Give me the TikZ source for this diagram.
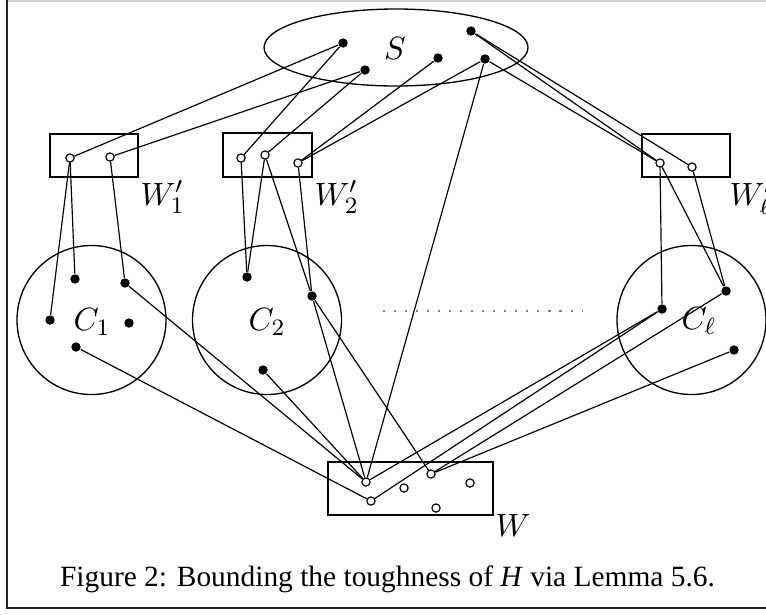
\documentclass[tikz,border=0pt]{standalone}
\usepackage[no-math]{fontspec}
\setmainfont{Liberation Serif}
\begin{document}
\begin{tikzpicture}[x=0.34pt,y=-0.34pt,
  edge/.style={line width=0.4pt},
  vtx/.style={circle,fill=black,inner sep=0pt,minimum size=3.2pt},
  ovtx/.style={circle,draw=black,fill=white,line width=0.4pt,inner sep=0pt,minimum size=2.8pt},
  setbox/.style={draw,line width=0.45pt},
  lbl/.style={inner sep=1pt,font=\fontsize{11}{13}\selectfont}]
\useasboundingbox (0,0) rectangle (766,614);
% frame
\draw[gray!35,line width=0.5pt] (7,0.8) -- (766,0.8);
\draw[black!85,line width=0.7pt] (7,0) -- (7,608) -- (766,608);

% sets
\draw[setbox] (396,47.5) ellipse [x radius=132, y radius=38.5];
\draw[setbox] (50,134) rectangle (138,177);
\draw[setbox] (223,133) rectangle (312,177);
\draw[setbox] (642,134) rectangle (730,177);
\draw[setbox] (328,462) rectangle (493,515);
\draw[setbox] (91.5,320) circle [radius=74.5];
\draw[setbox] (267,320) circle [radius=74.5];
\draw[setbox] (691.5,320) circle [radius=74.5];
\draw[gray,line width=0.7pt,dash pattern=on 0.7pt off 3.05pt] (383,311) -- (582,311);

% labels
\node[lbl] (lS) at (395,48) {$S$};
\node[lbl,anchor=north west] (lW1) at (137,177) {$W'_1$};
\node[lbl,anchor=north west] (lW2) at (311,177) {$W'_2$};
\node[lbl,anchor=north west] (lWl) at (726,177) {$W'_\ell$};
\node[lbl,anchor=north west] (lW) at (492,511) {$W$};
\node[lbl] (lC1) at (92,322) {$C_1$};
\node[lbl] (lC2) at (267,322) {$C_2$};
\node[lbl] (lCl) at (699,321) {$C_\ell$};

% vertices of S
\node[vtx] (d1) at (343,43) {};
\node[vtx] (d2) at (365,70) {};
\node[vtx] (d3) at (438,58) {};
\node[vtx] (d4) at (471,31) {};
\node[vtx] (d5) at (485,59) {};
% vertices of the W' sets
\node[ovtx] (a1) at (70,158) {};
\node[ovtx] (a2) at (110,157) {};
\node[ovtx] (b1) at (241,158) {};
\node[ovtx] (b2) at (265,155) {};
\node[ovtx] (b3) at (298,163) {};
\node[ovtx] (l1) at (660,163) {};
\node[ovtx] (l2) at (692,167) {};
% vertices of the components
\node[vtx] (c11) at (50,320) {};
\node[vtx] (c12) at (75,279) {};
\node[vtx] (c13) at (125,283) {};
\node[vtx] (c14) at (129,323) {};
\node[vtx] (c15) at (76,347) {};
\node[vtx] (c21) at (247,277) {};
\node[vtx] (c22) at (312,296) {};
\node[vtx] (c23) at (263,370) {};
\node[vtx] (cl1) at (662,309) {};
\node[vtx] (cl2) at (726,291) {};
\node[vtx] (cl3) at (734,350) {};
% vertices of W
\node[ovtx] (w1) at (366,482) {};
\node[ovtx] (w2) at (371,501) {};
\node[ovtx] (w3) at (404,488) {};
\node[ovtx] (w4) at (431,474) {};
\node[ovtx] (w5) at (470,483) {};
\node[ovtx] (w6) at (436,508) {};

% edges
\draw[edge] (d1) -- (a1);
\draw[edge] (d1) -- (b1);
\draw[edge] (d2) -- (a2);
\draw[edge] (d2) -- (b2);
\draw[edge] (d3) -- (b3);
\draw[edge] (d5) -- (b3);
\draw[edge] (d5) -- (w1);
\draw[edge] (d4) -- (l1);
\draw[edge] (d4) -- (l2);
\draw[edge] (d5) -- (l1);
\draw[edge] (a1) -- (c11);
\draw[edge] (a1) -- (c12);
\draw[edge] (a2) -- (c13);
\draw[edge] (b1) -- (c21);
\draw[edge] (b2) -- (c21);
\draw[edge] (b2) -- (c22);
\draw[edge] (b3) -- (c22);
\draw[edge] (c13) -- (w1);
\draw[edge] (c15) -- (w2);
\draw[edge] (c23) -- (w1);
\draw[edge] (c22) -- (w1);
\draw[edge] (c22) -- (w4);
\draw[edge] (l1) -- (cl1);
\draw[edge] (l1) -- (cl2);
\draw[edge] (l2) -- (cl2);
\draw[edge] (w1) -- (cl1);
\draw[edge] (w2) -- (cl1);
\draw[edge] (w4) -- (cl2);
\draw[edge] (w4) -- (cl3);

% caption
\node[anchor=base,inner sep=0pt,font=\fontsize{10}{12}\selectfont] (cap) at (387.5,586)
  {Figure 2: Bounding the toughness of \textit{H} via Lemma 5.6.};
\end{tikzpicture}
\end{document}
